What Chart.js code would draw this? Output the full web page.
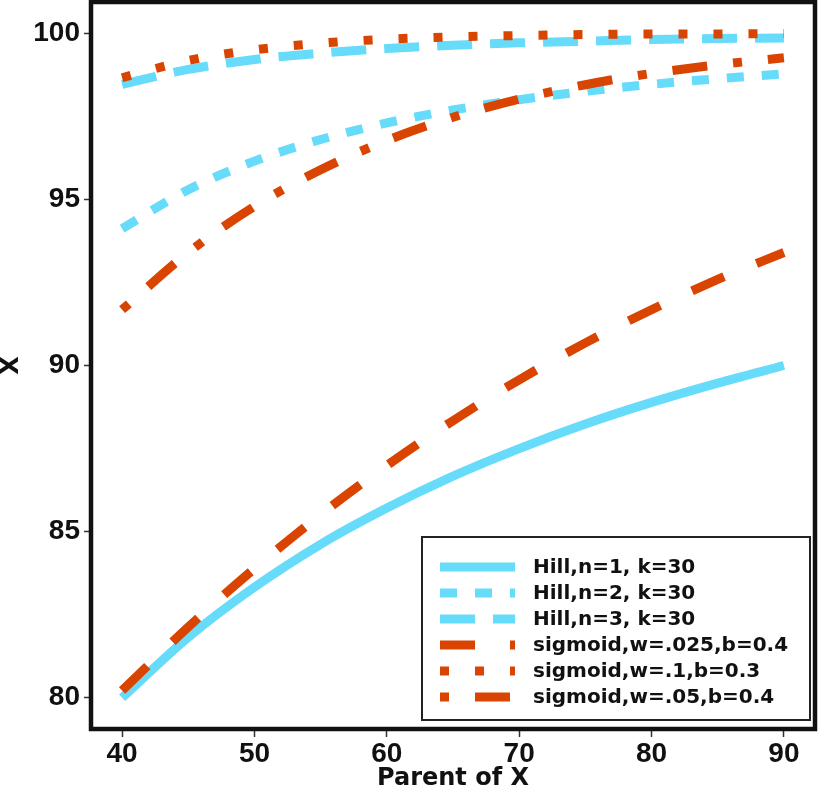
<!DOCTYPE html>
<html>
<head>
<meta charset="utf-8">
<script src="https://cdn.jsdelivr.net/npm/chart.js@4/dist/chart.umd.min.js"></script>
<style>
  html, body { margin: 0; padding: 0; background: #fff; }
</style>
</head>
<body>
<canvas id="chart" width="819" height="791"></canvas>
<script>
// values
const PARENT = [40, 45, 50, 55, 60, 65, 70, 75, 80, 85, 90];
const HILL_N1 = [80.0, 81.82, 83.33, 84.62, 85.71, 86.67, 87.5, 88.24, 88.89, 89.47, 90.0];
const HILL_N2 = [94.12, 95.29, 96.15, 96.8, 97.3, 97.69, 98.0, 98.25, 98.46, 98.63, 98.78];
const HILL_N3 = [98.46, 98.91, 99.21, 99.4, 99.54, 99.64, 99.71, 99.76, 99.81, 99.84, 99.86];
const SIG_025 = [80.22, 82.13, 83.89, 85.51, 86.99, 88.34, 89.57, 90.68, 91.68, 92.59, 93.4];
const SIG_1 = [98.66, 99.18, 99.5, 99.7, 99.82, 99.89, 99.93, 99.96, 99.98, 99.98, 99.99];
const SIG_05 = [91.68, 93.4, 94.79, 95.89, 96.77, 97.47, 98.02, 98.45, 98.79, 99.05, 99.26];

const LABELS = [
  "Hill,n=1, k=30",
  "Hill,n=2, k=30",
  "Hill,n=3, k=30",
  "sigmoid,w=.025,b=0.4",
  "sigmoid,w=.1,b=0.3",
  "sigmoid,w=.05,b=0.4",
];
const X_TICKS = [40, 50, 60, 70, 80, 90];
const Y_TICKS = [80, 85, 90, 95, 100];

const BLUE = "#66dbfa";
const ORANGE = "#d94400";
const TICK_FONT = { family: "'Liberation Sans', Arial, sans-serif", size: 28, weight: "bold" };
const TITLE_FONT = "'DejaVu Sans', sans-serif";

function series(label, values, color, dash, order) {
  return {
    label: label,
    data: PARENT.map((x, i) => ({ x: x, y: values[i] })),
    borderColor: color,
    backgroundColor: color,
    borderWidth: 9,
    borderDash: dash,
    borderCapStyle: "butt",
    pointRadius: 0,
    cubicInterpolationMode: "monotone",
    fill: false,
    order: order,
  };
}

const datasets = [
  series(LABELS[0], HILL_N1, BLUE, [], 1),
  series(LABELS[1], HILL_N2, BLUE, [17, 18], 1),
  series(LABELS[2], HILL_N3, BLUE, [35, 18], 1),
  series(LABELS[3], SIG_025, ORANGE, [35, 35], 0),
  series(LABELS[4], SIG_1, ORANGE, [9, 26], 0),
  series(LABELS[5], SIG_05, ORANGE, [9, 26, 35, 26], 0),
];

// no extra room for overhanging tick labels
function noPad(s) {
  s.paddingTop = 0;
  s.paddingBottom = 0;
  s.paddingLeft = 0;
  s.paddingRight = 0;
}

// thick panel border drawn over the lines
const framePlugin = {
  id: "frame",
  afterDatasetsDraw(chart) {
    const { ctx, chartArea: a } = chart;
    ctx.save();
    ctx.strokeStyle = "#111";
    ctx.lineWidth = 4.5;
    ctx.setLineDash([]);
    ctx.strokeRect(a.left + 2, a.top + 2, a.right - a.left - 4, a.bottom - a.top - 4);
    ctx.restore();
  },
};

// boxed legend inside the plot, bottom right
const legendPlugin = {
  id: "boxLegend",
  afterDraw(chart) {
    const ctx = chart.ctx;
    ctx.save();
    ctx.fillStyle = "#fff";
    ctx.fillRect(422, 537, 388, 183);
    ctx.strokeStyle = "#222";
    ctx.lineWidth = 2;
    ctx.strokeRect(422, 537, 388, 183);
    chart.data.datasets.forEach((ds, i) => {
      const y = 567 + i * 26;
      ctx.strokeStyle = ds.borderColor;
      ctx.lineWidth = ds.borderWidth;
      ctx.lineCap = "butt";
      ctx.setLineDash(ds.borderDash);
      ctx.beginPath();
      ctx.moveTo(440, y);
      ctx.lineTo(515, y);
      ctx.stroke();
      ctx.setLineDash([]);
      ctx.fillStyle = "#111";
      ctx.font = "bold 20px " + TITLE_FONT;
      ctx.textBaseline = "middle";
      ctx.textAlign = "left";
      ctx.fillText(ds.label, 533, y + 1);
    });
    ctx.restore();
  },
};

new Chart(document.getElementById("chart"), {
  type: "line",
  data: { datasets: datasets },
  options: {
    responsive: false,
    animation: false,
    layout: { padding: { top: 0, right: 2, bottom: 0, left: 0 } },
    plugins: {
      legend: { display: false },
      tooltip: { enabled: false },
    },
    scales: {
      x: {
        type: "linear",
        min: 37.5,
        max: 92.5,
        afterBuildTicks: (s) => { s.ticks = X_TICKS.map((v) => ({ value: v })); },
        afterFit: (s) => { s.height = 60; noPad(s); },
        border: { display: false },
        grid: { drawOnChartArea: false, tickLength: 6, tickColor: "#333", tickWidth: 1.5 },
        ticks: { color: "#111", font: TICK_FONT, padding: 0, maxRotation: 0 },
        title: {
          display: true,
          text: "Parent of X",
          color: "#111",
          font: { family: TITLE_FONT, size: 24, weight: "bold", lineHeight: 1 },
          padding: { top: 0, bottom: 0 },
        },
      },
      y: {
        type: "linear",
        min: 79,
        max: 101,
        afterBuildTicks: (s) => { s.ticks = Y_TICKS.map((v) => ({ value: v })); },
        afterFit: (s) => { s.width = 89; noPad(s); },
        border: { display: false },
        grid: { drawOnChartArea: false, tickLength: 5, tickColor: "#333", tickWidth: 1.5 },
        ticks: { color: "#111", font: TICK_FONT, padding: 4 },
        title: {
          display: true,
          text: "X",
          color: "#111",
          font: { family: TITLE_FONT, size: 24, weight: "bold", lineHeight: 1 },
          padding: { top: 0, bottom: 0 },
        },
      },
    },
  },
  plugins: [framePlugin, legendPlugin],
});
</script>
</body>
</html>
